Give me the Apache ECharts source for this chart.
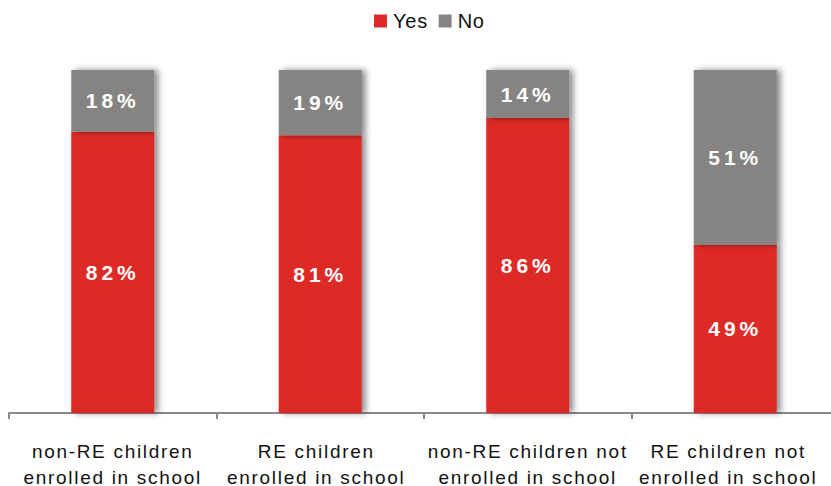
<!DOCTYPE html>
<html>
<head>
<meta charset="utf-8">
<script src="https://cdn.jsdelivr.net/npm/echarts@6/dist/echarts.min.js"></script>
<style>
  html, body { margin: 0; padding: 0; background: #fff; }
  #chart { width: 831px; height: 486px; overflow: hidden; }
  /* tracking: legend (20px), category labels (19px), bar value labels (bold) */
  #chart text[style*="20px"] { letter-spacing: 0.8px; }
  #chart text[style*="19px"] { letter-spacing: 1.7px; }
  #chart text[style*="bold"] { letter-spacing: 4px; }
</style>
</head>
<body>
<div id="chart"></div>
<script>
// Share of children, by group (percent)
const categories = [
  'non-RE children\nenrolled in school',
  'RE children\nenrolled in school',
  'non-RE children not\nenrolled in school',
  'RE children not\nenrolled in school'
];
const yesValues = [82, 81, 86, 49];
const noValues = [18, 19, 14, 51];

// extra right padding per category label (nudges a label slightly left)
const labelNudge = [0, 8, 0, 14];

const RED = '#DE2A28';
const GRAY = '#858483';
const FONT = 'Liberation Sans, Arial, sans-serif';

const barShadow = {
  shadowColor: 'rgba(0,0,0,0.45)',
  shadowBlur: 6,
  shadowOffsetX: 4,
  shadowOffsetY: 0
};

const labelStyle = {
  show: true,
  position: 'inside',
  color: '#ffffff',
  fontFamily: FONT,
  fontWeight: 'bold',
  fontSize: 21,
  formatter: p => p.value + '%'
};

const categoryData = categories.map((name, i) => ({
  value: name,
  textStyle: { padding: [0, labelNudge[i], 0, 0] }
}));

const chart = echarts.init(document.getElementById('chart'), null, { renderer: 'svg' });
chart.setOption({
  animation: false,
  backgroundColor: '#ffffff',
  legend: {
    top: 6,
    left: 369,
    itemWidth: 13,
    itemHeight: 13,
    itemGap: 13,
    icon: 'rect',
    textStyle: {
      fontFamily: FONT,
      fontSize: 20,
      color: '#111',
      padding: [0, 0, 0, 1]
    },
    data: ['Yes', 'No']
  },
  grid: {
    left: 9,
    width: 830,
    top: 70,
    bottom: 73,
    containLabel: false,
    outerBoundsMode: 'none'
  },
  xAxis: {
    type: 'category',
    data: categoryData,
    boundaryGap: true,
    axisLine: { lineStyle: { color: '#8a8a8a', width: 2 } },
    axisTick: { show: true, interval: 0, alignWithLabel: false, length: 6, lineStyle: { color: '#8a8a8a', width: 2 } },
    axisLabel: {
      interval: 0,
      margin: 25,
      fontFamily: FONT,
      fontSize: 19,
      lineHeight: 26,
      color: '#111'
    }
  },
  yAxis: {
    type: 'value',
    min: 0,
    max: 100,
    show: false,
    splitLine: { show: false }
  },
  series: [
    {
      name: 'Yes',
      type: 'bar',
      stack: 'total',
      barWidth: '40%',
      data: yesValues,
      itemStyle: Object.assign({ color: RED }, barShadow),
      label: labelStyle
    },
    {
      name: 'No',
      type: 'bar',
      stack: 'total',
      barWidth: '40%',
      data: noValues,
      itemStyle: Object.assign({ color: GRAY }, barShadow),
      label: labelStyle
    }
  ]
});
</script>
</body>
</html>
